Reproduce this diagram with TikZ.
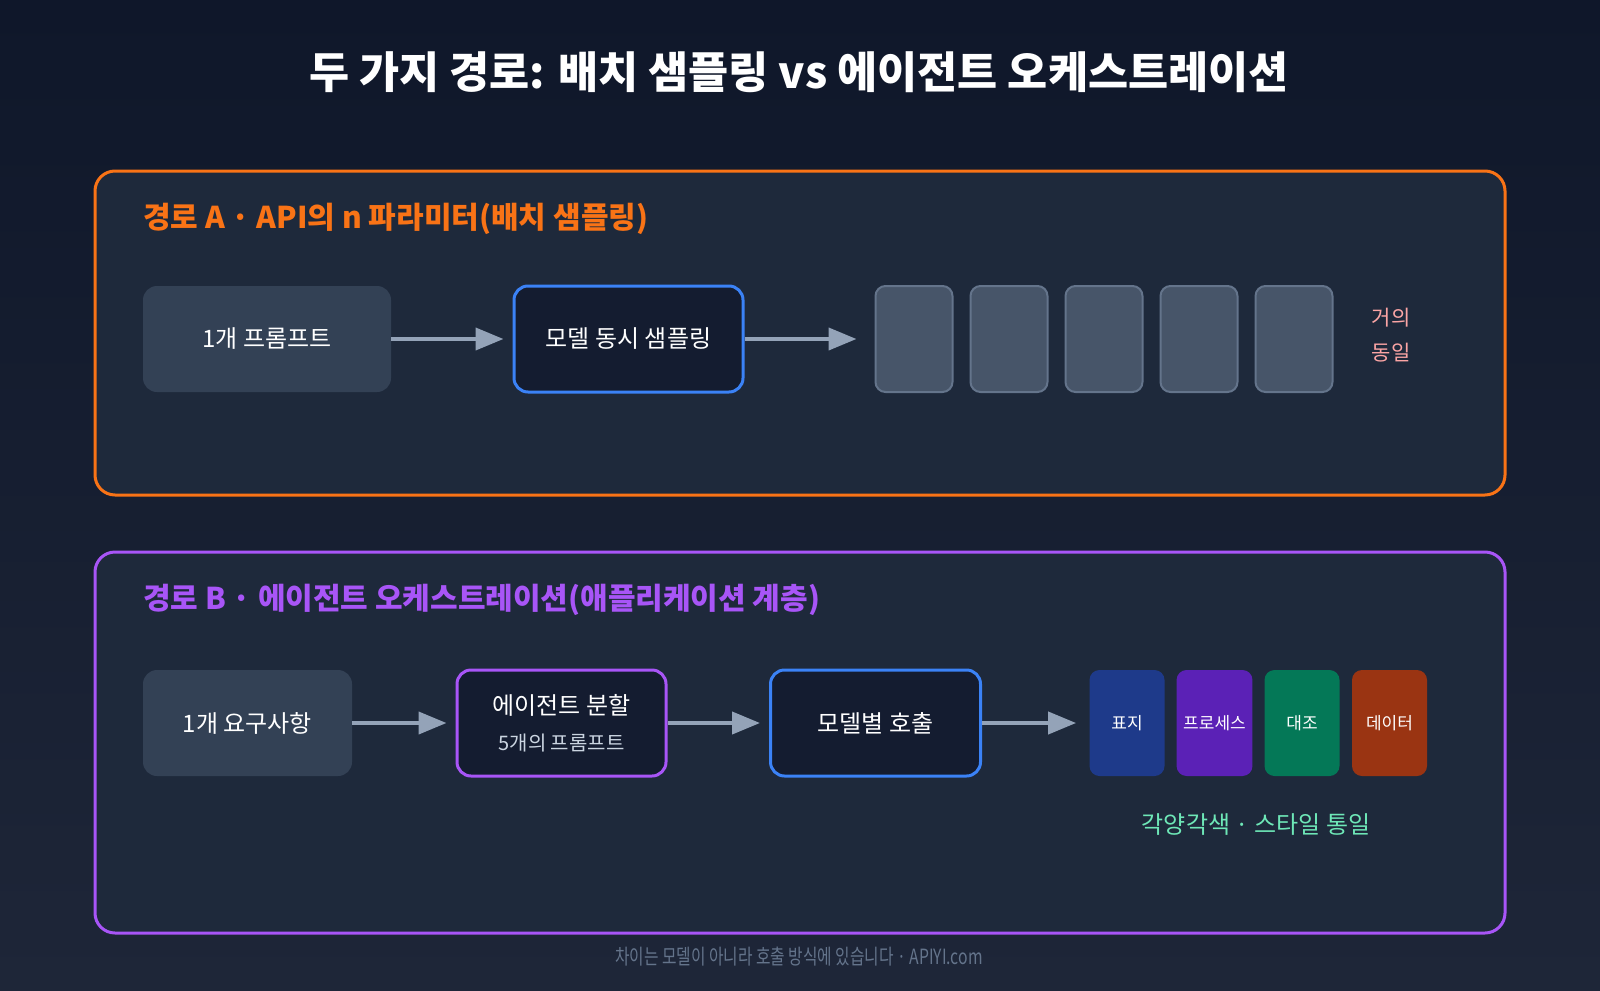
\documentclass[tikz,border=0pt]{standalone}
\usepackage{fontspec}
\setmainfont{Noto Sans CJK KR}
\newfontfamily\condfont{Noto Sans CJK KR}[FakeStretch=0.75]
\usetikzlibrary{arrows.meta}
\definecolor{bgtop}{HTML}{0F172A}
\definecolor{bgbot}{HTML}{1E2638}
\definecolor{panelbg}{HTML}{1E293B}
\definecolor{srcgray}{HTML}{334155}
\definecolor{procbg}{HTML}{141C30}
\definecolor{cardgray}{HTML}{475569}
\definecolor{cardedge}{HTML}{64748B}
\definecolor{arrowgray}{HTML}{94A3B8}
\definecolor{pathA}{HTML}{F97316}
\definecolor{pathB}{HTML}{A855F7}
\definecolor{modelblue}{HTML}{3B82F6}
\definecolor{samepink}{HTML}{FCA5A5}
\definecolor{mixgreen}{HTML}{6EE7B7}
\definecolor{subgray}{HTML}{CBD5E1}
\definecolor{footgray}{HTML}{64748B}
\definecolor{tagblue}{HTML}{1E3A8A}
\definecolor{tagpurple}{HTML}{5B21B6}
\definecolor{taggreen}{HTML}{047857}
\definecolor{tagrust}{HTML}{9A3412}
\tikzset{
    panel/.style={line width=1.5pt, rounded corners=10pt, fill=panelbg},
    heading/.style={anchor=west, font=\bfseries\fontsize{15}{18}\selectfont},
    base/.style={rectangle, rounded corners=7pt, minimum height=53pt, align=center, text=white, font=\fontsize{12}{14}\selectfont},
    src/.style={base, fill=srcgray},
    proc/.style={base, draw, line width=1.5pt, fill=procbg},
    card/.style={rectangle, rounded corners=5pt, minimum width=38.5pt, minimum height=53pt, fill=cardgray, draw=cardedge, line width=1pt},
    tag/.style={rectangle, rounded corners=5pt, minimum width=37.5pt, minimum height=53pt, text=white, font=\fontsize{8.5}{10}\selectfont},
    arrow/.style={-{Triangle[length=14pt, width=11pt]}, line width=2pt, draw=arrowgray, shorten >=4.5pt}
}

\begin{document}
\begin{tikzpicture}[x=0.5pt, y=-0.5pt]
\useasboundingbox (0,0) rectangle (1600,990);
\shade[top color=bgtop, bottom color=bgbot] (0,0) rectangle (1600,990);
\node[text=white, font=\bfseries\fontsize{21.8}{26}\selectfont] (title) at (799,72) {두 가지 경로: 배치 샘플링 vs 에이전트 오케스트레이션};

\draw[panel, draw=pathA] (95,171) rectangle (1505,495);
\node[heading, text=pathA] (headA) at (136,219) {경로 A · API의 n 파라미터(배치 샘플링)};
\node[src, minimum width=124pt] (promptA) at (267,339) {1개 프롬프트};
\node[proc, draw=modelblue, minimum width=114.5pt, right of=promptA, node distance=180.75pt] (sampleA) {모델 동시 샘플링};
\node[card, right of=sampleA, node distance=142.75pt] (card1) {};
\node[card, right of=card1, node distance=47.5pt] (card2) {};
\node[card, right of=card2, node distance=47.5pt] (card3) {};
\node[card, right of=card3, node distance=47.5pt] (card4) {};
\node[card, right of=card4, node distance=47.5pt] (card5) {};
\node[align=center, text=samepink, font=\fontsize{10.5}{17.5}\selectfont, right of=card5, node distance=48.5pt, yshift=2pt] (same) {거의\\동일};
\draw[arrow] (promptA) -- (sampleA);
\draw[arrow, shorten >=9pt] (sampleA) -- (card1);

\draw[panel, draw=pathB] (95,552) rectangle (1505,933);
\node[heading, text=pathB] (headB) at (136,600) {경로 B · 에이전트 오케스트레이션(애플리케이션 계층)};
\node[src, minimum width=104.5pt] (needB) at (247.5,723) {1개 요구사항};
\node[proc, draw=pathB, minimum width=104.5pt, right of=needB, node distance=157pt] (splitB) {에이전트 분할\\[4pt]{\fontsize{10}{12}\selectfont\color{subgray}5개의 프롬프트}};
\node[proc, draw=modelblue, minimum width=105pt, right of=splitB, node distance=157pt] (callB) {모델별 호출};
\node[tag, fill=tagblue, right of=callB, node distance=125.75pt] (tag1) {표지};
\node[tag, fill=tagpurple, right of=tag1, node distance=43.75pt] (tag2) {프로세스};
\node[tag, fill=taggreen, right of=tag2, node distance=43.75pt] (tag3) {대조};
\node[tag, fill=tagrust, right of=tag3, node distance=43.75pt] (tag4) {데이터};
\node[text=mixgreen, font=\fontsize{12}{14}\selectfont] (variety) at (1256,825) {각양각색 · 스타일 통일};
\draw[arrow] (needB) -- (splitB);
\draw[arrow] (splitB) -- (callB);
\draw[arrow, shorten >=6.5pt] (callB) -- (tag1);

\node[text=footgray, font=\condfont\fontsize{10.5}{12}\selectfont] (footer) at (799,957) {차이는 모델이 아니라 호출 방식에 있습니다 · APIYI.com};
\end{tikzpicture}
\end{document}
